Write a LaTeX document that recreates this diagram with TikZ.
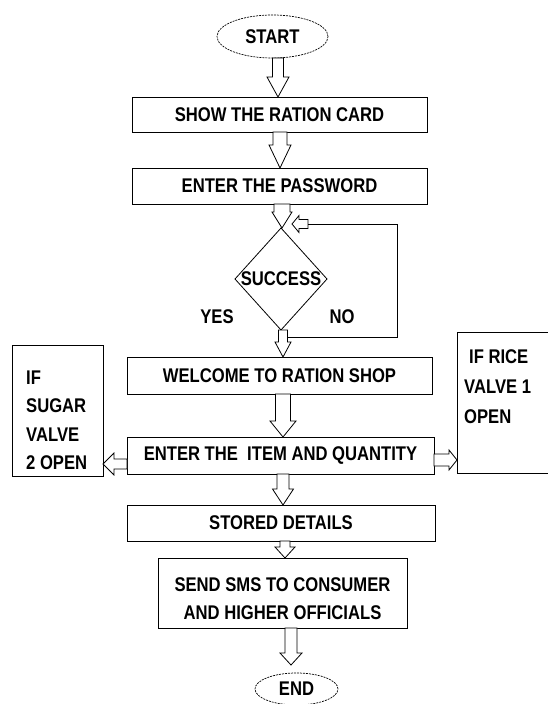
\documentclass[tikz,border=0pt]{standalone}
\usepackage{fontspec}
\setmainfont{Liberation Sans}[FakeStretch=0.84]
\usetikzlibrary{calc,shapes.geometric}
\tikzset{
  box/.style={draw, line width=1pt, inner sep=0pt, outer sep=0pt, rectangle},
  txt/.style={font=\fontsize{19.8}{22}\selectfont\bfseries},
  term/.style={draw, ellipse, dash pattern=on 2pt off 1pt, line width=0.7pt, inner sep=0pt, outer sep=0pt},
  dec/.style={draw, diamond, line width=0.8pt, minimum width=92pt, minimum height=102pt, inner sep=0pt, outer sep=0pt},
  blockarrow/.style={draw, fill=white, line width=0.8pt, line join=miter},
  loopline/.style={draw, line width=0.9pt},
}
\newcommand\flowdown[5]{\draw[blockarrow] let \p1=#1, \p2=#2 in
 (\x2-#3pt,\y1) -- (\x2+#3pt,\y1) -- (\x2+#3pt,\y2+#5pt) -- (\x2+#4pt,\y2+#5pt) -- (\x2,\y2) -- (\x2-#4pt,\y2+#5pt) -- (\x2-#3pt,\y2+#5pt) -- cycle;}
\newcommand\flowleft[5]{\draw[blockarrow] let \p1=#1, \p2=#2 in
 (\x1,\y2+#3pt) -- (\x2+#5pt,\y2+#3pt) -- (\x2+#5pt,\y2+#4pt) -- (\x2,\y2) -- (\x2+#5pt,\y2-#4pt) -- (\x2+#5pt,\y2-#3pt) -- (\x1,\y2-#3pt) -- cycle;}
\newcommand\flowright[5]{\draw[blockarrow] let \p1=#1, \p2=#2 in
 (\x1,\y2+#3pt) -- (\x2-#5pt,\y2+#3pt) -- (\x2-#5pt,\y2+#4pt) -- (\x2,\y2) -- (\x2-#5pt,\y2-#4pt) -- (\x2-#5pt,\y2-#3pt) -- (\x1,\y2-#3pt) -- cycle;}
\begin{document}
\begin{tikzpicture}[x=1pt,y=-1pt]
\fill[white] (0,0) rectangle (547,704);
\useasboundingbox (0,0) rectangle (547,704);

% nodes
\node[term, txt, minimum width=111pt, minimum height=43pt] (start) at (272.5,36.5) {START};
\node[box, txt, minimum width=295pt, minimum height=35pt] (show) at (279.5,114.5) {SHOW THE RATION CARD};
\node[box, txt, minimum width=295pt, minimum height=36pt] (pass) at (279.5,186) {ENTER THE PASSWORD};
\node[dec, txt] (dec) at (281,279) {\makebox[0pt]{SUCCESS}};
\node[txt] (yes) at (217,317) {YES};
\node[txt] (no) at (342,317) {NO};
\node[box, txt, minimum width=305pt, minimum height=37pt] (welcome) at (279.5,375.5) {WELCOME TO RATION SHOP};
\node[box, txt, minimum width=307pt, minimum height=37pt] (item) at (280.5,455.5) {ENTER THE \ ITEM AND QUANTITY};
\node[box, minimum width=91pt, minimum height=131pt] (sugar) at (57.5,410.5) {};
\node[align=left, anchor=west, font=\fontsize{19.8}{28.5}\selectfont\bfseries, inner sep=0pt] (sugartext) at (26,420.5) {IF\\SUGAR\\VALVE\\2 OPEN};
\node[box, minimum width=110pt, minimum height=141pt] (rice) at (512,402.5) {};
\node[align=left, anchor=west, font=\fontsize{19.8}{30}\selectfont\bfseries, inner sep=0pt] (ricetext) at (464,387) {\hspace*{5pt}IF RICE\\VALVE 1\\OPEN};
\node[box, txt, minimum width=308pt, minimum height=36pt] (stored) at (281,523) {STORED DETAILS};
\node[box, minimum width=249pt, minimum height=70pt] (sms) at (282.5,593) {};
\node[align=center, font=\fontsize{19.8}{28}\selectfont\bfseries, inner sep=0pt] (smstext) at (282.5,599) {SEND SMS TO CONSUMER\\AND HIGHER OFFICIALS};
\node[term, txt, minimum width=83pt, minimum height=32pt] (end) at (296.5,689) {END};

% block arrows
\flowdown{(278,0 |- start.south)}{(278,0 |- show.north)}{5.5}{11}{20}
\flowdown{(280,0 |- show.south)}{(280,0 |- pass.north)}{7}{11}{23}
\flowdown{(282,0 |- pass.south)}{(282,0 |- dec.north)}{8}{10}{16}
\flowdown{(283,0 |- dec.south)}{(283,0 |- welcome.north)}{4.5}{8}{15}
\flowdown{(283,0 |- welcome.south)}{(283,0 |- item.north)}{7.5}{13}{16}
\flowdown{(283,0 |- item.south)}{(283,0 |- stored.north)}{6}{10.5}{16}
\flowdown{(285,0 |- stored.south)}{(285,0 |- sms.north)}{5}{10}{11}
\coordinate (endtip) at ($(291,0 |- end.north)+(0,-8)$);
\flowdown{(291,0 |- sms.south)}{(endtip)}{6}{11}{12}
\flowleft{(item.west |- 0,464)}{(sugar.east |- 0,464)}{5}{11}{11}
\flowright{(item.east |- 0,460)}{(rice.west |- 0,460)}{6}{10}{8}

% NO loop
\coordinate (looptip) at (292,224);
\coordinate (loopstart) at (308,224);
\coordinate (loopne) at (397,224);
\coordinate (loopse) at (397,337);
\coordinate (loopend) at (287.5,337);
\flowleft{(loopstart)}{(looptip)}{4.5}{8.5}{7}
\draw[loopline] (loopstart) -- (loopne) -- (loopse) -- (loopend);
\end{tikzpicture}
\end{document}
